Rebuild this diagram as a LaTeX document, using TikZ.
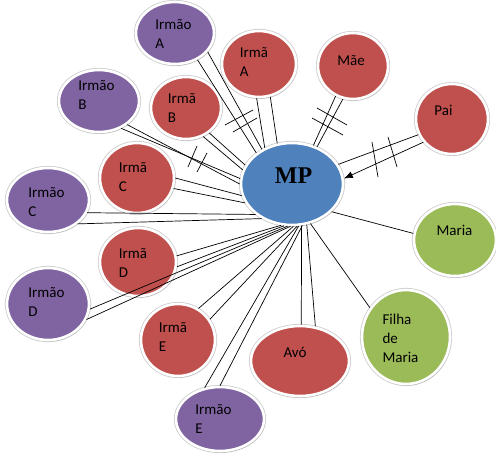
\documentclass[tikz,border=0pt]{standalone}
\usepackage{fontspec}
\setmainfont{Carlito}
\newfontfamily\mpfont{Liberation Serif}
\usetikzlibrary{shapes.geometric,shadows,arrows.meta}
\definecolor{purp}{RGB}{128,100,162}
\definecolor{redc}{RGB}{192,80,77}
\definecolor{bluec}{RGB}{79,129,189}
\definecolor{greenc}{RGB}{155,187,89}
\begin{document}
\begin{tikzpicture}[x=1pt,y=-1pt,
  bub/.style={ellipse, inner sep=0pt, draw=white, line width=2.6pt,
    preaction={draw=black!20, line width=4.2pt},
    drop shadow={shadow xshift=0.8pt, shadow yshift=-1.4pt, opacity=0.4, fill=black!60}},
  lbl/.style={font=\fontsize{15}{19}\selectfont, align=left, inner sep=0pt, text=black},
  rel/.style={line width=0.7pt, draw=black},
  hashmark/.style={line width=0.7pt, draw=black}]
\useasboundingbox (0,0) rectangle (496,456);
% bubbles
\node[bub, fill=purp, minimum width=78pt, minimum height=62pt] (iA) at (175,33) {};
\node[bub, fill=redc, minimum width=74pt, minimum height=66pt] (aA) at (259,64) {};
\node[bub, fill=redc, minimum width=70pt, minimum height=66pt] (mae) at (353,66) {};
\node[bub, fill=redc, minimum width=72pt, minimum height=70pt] (pai) at (452,119) {};
\node[bub, fill=purp, minimum width=80pt, minimum height=62pt] (iB) at (99,101) {};
\node[bub, fill=redc, minimum width=70pt, minimum height=62pt] (aB) at (186,108) {};
\node[bub, fill=redc, minimum width=74pt, minimum height=70pt] (aC) at (137,178) {};
\node[bub, fill=purp, minimum width=82pt, minimum height=64pt] (iC) at (48,200) {};
\node[bub, fill=bluec, minimum width=102pt, minimum height=82pt] (mp) at (292,184) {};
\node[bub, fill=greenc, minimum width=82pt, minimum height=72pt] (maria) at (455,240) {};
\node[bub, fill=redc, minimum width=76pt, minimum height=68pt] (aD) at (138,262) {};
\node[bub, fill=purp, minimum width=82pt, minimum height=72pt] (iD) at (48,304) {};
\node[bub, fill=redc, minimum width=74pt, minimum height=72pt] (aE) at (178,340) {};
\node[bub, fill=redc, minimum width=98pt, minimum height=70pt] (avo) at (300,361) {};
\node[bub, fill=greenc, minimum width=88pt, minimum height=94pt] (filha) at (406,337) {};
\node[bub, fill=purp, minimum width=88pt, minimum height=64pt] (iE) at (220,419) {};
% labels
\node[lbl] (tiA) at (173.5,34) {Irmão\\A};
\node[lbl] (taA) at (254,62) {Irmã\\A};
\node[lbl, anchor=base] (tmae) at (351,65) {Mãe};
\node[lbl, anchor=base] (tpai) at (443.5,115) {Pai};
\node[lbl] (tiB) at (96.5,95) {Irmão\\B};
\node[lbl] (taB) at (182,108) {Irmã\\B};
\node[lbl] (taC) at (133,177) {Irmã\\C};
\node[lbl] (tiC) at (46.5,202) {Irmão\\C};
\node[anchor=base, inner sep=0pt, font=\mpfont\bfseries\fontsize{24}{28}\selectfont] (tmp) at (293.5,183) {MP};
\node[lbl, anchor=base] (tmaria) at (454.5,235) {Maria};
\node[lbl] (taD) at (133,263) {Irmã\\D};
\node[lbl] (tiD) at (46.5,302) {Irmão\\D};
\node[lbl] (taE) at (173,337) {Irmã\\E};
\node[lbl, anchor=base] (tavo) at (295,357) {Avó};
\node[lbl] (tfilha) at (400.5,338) {Filha\\de\\Maria};
\node[lbl] (tiE) at (213.5,419) {Irmão\\E};
% connectors
\draw[rel] (iA.-50.8) -- (mp.139.9);
\draw[rel] (iA.-30.7) -- (mp.131.4);
\draw[rel] (aA.-94.8) -- (mp.127.1);
\draw[rel] (aA.-71.6) -- (mp.110.2);
\draw[rel] (mae.-120.5) -- (mp.61.6);
\draw[rel] (mae.-107) -- (mp.56.3);
\draw[rel] (pai.-155.9) -- (mp.23);
\draw[rel, -{Latex[length=9pt,width=7pt]}] (pai.-141.6) -- (mp.6.7);
\draw[rel] (maria.171.3) -- (mp.-35.9);
\draw[rel] (filha.141.5) -- (mp.-65.1);
\draw[rel] (avo.88.3) -- (mp.-77.6);
\draw[rel] (avo.66) -- (mp.-70);
\draw[rel] (iE.116.6) -- (mp.-81.9);
\draw[rel] (iE.90) -- (mp.-76.6);
\draw[rel] (aE.57.2) -- (mp.-88.7);
\draw[rel] (aE.33.2) -- (mp.-83.4);
\draw[rel] (iD.-7.3) -- (mp.-96.6);
\draw[rel] (iD.-22.3) -- (mp.-92.6);
\draw[rel] (aD.9.2) -- (mp.-105.9);
\draw[rel] (aD.-7.7) -- (mp.-101.6);
\draw[rel] (iC.-18.4) -- (mp.-140.4);
\draw[rel] (iC.-39.1) -- (mp.-131.6);
\draw[rel] (aC.0) -- (mp.-167.3);
\draw[rel] (aC.-16.1) -- (mp.-158);
\draw[rel] (iB.-51.6) -- (mp.174.9);
\draw[rel] (iB.-40.4) -- (mp.180);
\draw[rel] (aB.-47.6) -- (mp.158);
\draw[rel] (aB.-59.3) -- (mp.164.7);
% cut-off marks
\draw[hashmark] (225,125) -- (253,110);
\draw[hashmark] (233,132) -- (257,118);
\draw[hashmark] (197,146) -- (188,167);
\draw[hashmark] (207,153) -- (197,172);
\draw[hashmark] (317,108) -- (347,125);
\draw[hashmark] (312,118) -- (343,135);
\draw[hashmark] (372,142) -- (378,177);
\draw[hashmark] (388,137) -- (397,167);
\end{tikzpicture}
\end{document}
